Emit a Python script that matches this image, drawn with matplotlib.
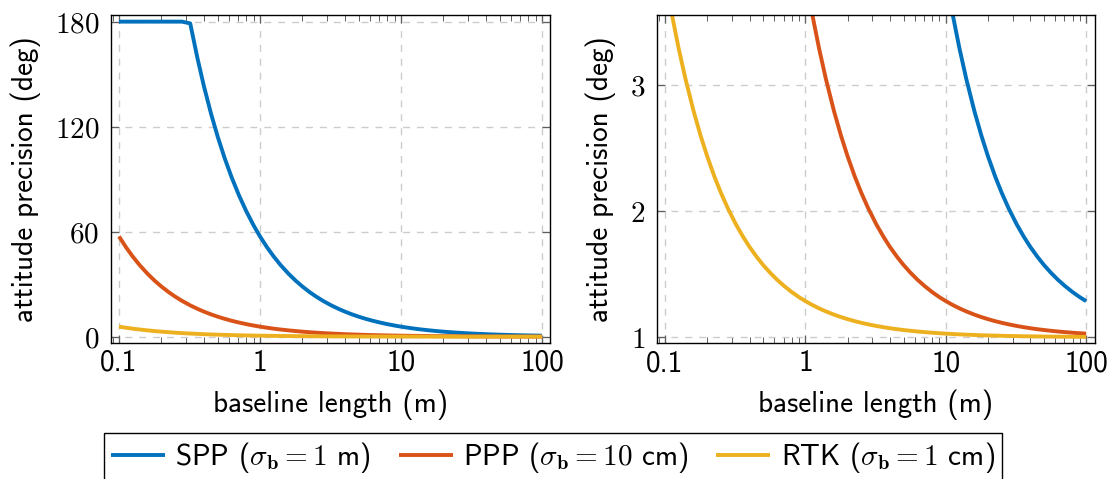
import matplotlib
matplotlib.use("Agg")
import matplotlib.pyplot as plt

plt.rcParams['font.family'] = ['cmss10', 'DejaVu Sans']
plt.rcParams['mathtext.fontset'] = 'cm'
plt.rcParams['axes.unicode_minus'] = False
plt.rcParams['font.size'] = 21

# baseline length (m)
baseline = [0.1, 0.112, 0.125, 0.14, 0.16, 0.18, 0.2, 0.225, 0.25, 0.28,
            0.32, 0.36, 0.4, 0.45, 0.5, 0.56, 0.63, 0.71, 0.8, 0.9,
            1, 1.12, 1.25, 1.4, 1.6, 1.8, 2, 2.25, 2.5, 2.8,
            3.2, 3.6, 4, 4.5, 5, 5.6, 6.3, 7.1, 8, 9,
            10, 11.2, 12.5, 14, 16, 18, 20, 22.5, 25, 28,
            32, 36, 40, 45, 50, 56, 63, 71, 80, 90, 100]

# left panel (deg)
spp_left = [180, 180, 180, 180, 180, 180, 180, 180, 180, 180,
            179.0, 159.2, 143.2, 127.3, 114.6, 102.3, 90.94, 80.70, 71.62, 63.66,
            57.30, 51.16, 45.84, 40.93, 35.81, 31.83, 28.65, 25.46, 22.92, 20.46,
            17.90, 15.92, 14.32, 12.73, 11.46, 10.23, 9.094, 8.070, 7.162, 6.366,
            5.730, 5.116, 4.584, 4.093, 3.581, 3.183, 2.865, 2.546, 2.292, 2.046,
            1.790, 1.592, 1.432, 1.273, 1.146, 1.023, 0.909, 0.807, 0.716, 0.637, 0.573]
ppp_left = [57.30, 51.16, 45.84, 40.93, 35.81, 31.83, 28.65, 25.46, 22.92, 20.46,
            17.90, 15.92, 14.32, 12.73, 11.46, 10.23, 9.094, 8.070, 7.162, 6.366,
            5.730, 5.116, 4.584, 4.093, 3.581, 3.183, 2.865, 2.546, 2.292, 2.046,
            1.790, 1.592, 1.432, 1.273, 1.146, 1.023, 0.909, 0.807, 0.716, 0.637,
            0.573, 0.512, 0.458, 0.409, 0.358, 0.318, 0.287, 0.255, 0.229, 0.205,
            0.179, 0.159, 0.143, 0.127, 0.115, 0.102, 0.091, 0.081, 0.072, 0.064, 0.057]
rtk_left = [5.730, 5.116, 4.584, 4.093, 3.581, 3.183, 2.865, 2.546, 2.292, 2.046,
            1.790, 1.592, 1.432, 1.273, 1.146, 1.023, 0.909, 0.807, 0.716, 0.637,
            0.573, 0.512, 0.458, 0.409, 0.358, 0.318, 0.287, 0.255, 0.229, 0.205,
            0.179, 0.159, 0.143, 0.127, 0.115, 0.102, 0.091, 0.081, 0.072, 0.064,
            0.057, 0.051, 0.046, 0.041, 0.036, 0.032, 0.029, 0.025, 0.023, 0.020,
            0.018, 0.016, 0.014, 0.013, 0.011, 0.010, 0.009, 0.008, 0.007, 0.006, 0.006]

# right panel (deg), zoomed view near 1
spp_right = [287.5, 256.8, 230.2, 205.7, 180.1, 160.2, 144.3, 128.3, 115.6, 103.3,
             90.5, 80.6, 72.6, 64.7, 58.3, 52.2, 46.5, 41.4, 36.8, 32.8,
             29.65, 26.58, 23.92, 21.47, 18.91, 16.92, 15.33, 13.73, 12.46, 11.23,
             9.95, 8.96, 8.16, 7.37, 6.73, 6.12, 5.547, 5.035, 4.581, 4.183,
             3.865, 3.558, 3.292, 3.047, 2.791, 2.592, 2.433, 2.273, 2.146, 2.023,
             1.895, 1.796, 1.716, 1.637, 1.573, 1.512, 1.455, 1.404, 1.358, 1.318, 1.286]
ppp_right = [29.65, 26.58, 23.92, 21.47, 18.91, 16.92, 15.33, 13.73, 12.46, 11.23,
             9.95, 8.96, 8.16, 7.37, 6.73, 6.12, 5.547, 5.035, 4.581, 4.183,
             3.865, 3.558, 3.292, 3.047, 2.791, 2.592, 2.433, 2.273, 2.146, 2.023,
             1.895, 1.796, 1.716, 1.637, 1.573, 1.512, 1.455, 1.404, 1.358, 1.318,
             1.2865, 1.2558, 1.2292, 1.2047, 1.1791, 1.1592, 1.1433, 1.1273, 1.1146, 1.1023,
             1.0895, 1.0796, 1.0716, 1.0637, 1.0573, 1.0512, 1.0455, 1.0404, 1.0358, 1.0318, 1.0286]
rtk_right = [3.865, 3.558, 3.292, 3.047, 2.791, 2.592, 2.433, 2.273, 2.146, 2.023,
             1.895, 1.796, 1.716, 1.637, 1.573, 1.512, 1.455, 1.404, 1.358, 1.318,
             1.2865, 1.2558, 1.2292, 1.2047, 1.1791, 1.1592, 1.1433, 1.1273, 1.1146, 1.1023,
             1.0895, 1.0796, 1.0716, 1.0637, 1.0573, 1.0512, 1.0455, 1.0404, 1.0358, 1.0318,
             1.0287, 1.0256, 1.0229, 1.0205, 1.0179, 1.0159, 1.0143, 1.0127, 1.0115, 1.0102,
             1.0090, 1.0080, 1.0072, 1.0064, 1.0057, 1.0051, 1.0046, 1.0040, 1.0036, 1.0032, 1.0029]

labels = [r'SPP ($\sigma_{\mathbf{b}} = 1$ m)',
          r'PPP ($\sigma_{\mathbf{b}} = 10$ cm)',
          r'RTK ($\sigma_{\mathbf{b}} = 1$ cm)']
colors = ['#0072BD', '#D95319', '#EDB120']

x_ticks = [0.1, 1, 10, 100]
x_ticklabels = ['0.1', '1', '10', '100']
left_yticks = [0, 60, 120, 180]
right_yticks = [1, 2, 3]

fig = plt.figure(figsize=(11.18, 4.79), dpi=100)
ax1 = fig.add_axes([0.0993, 0.2846, 0.3926, 0.6841])
ax2 = fig.add_axes([0.5874, 0.2833, 0.3920, 0.6847])


def style_axis(ax, yticks):
    ax.set_xscale('log')
    ax.set_xticks(x_ticks, x_ticklabels)
    ax.set_yticks(yticks, ['$%d$' % t for t in yticks])
    ax.grid(True, which='major', color='#cccccc', linestyle=(0, (5, 5)), linewidth=1.0)
    ax.tick_params(which='both', direction='in', top=True, right=True, color='#606060')
    ax.tick_params(which='major', length=5.5, width=0.9)
    ax.tick_params(which='minor', length=4, width=0.7)
    ax.tick_params(axis='x', pad=5)
    ax.tick_params(axis='y', pad=8.5)
    for s in ax.spines.values():
        s.set_linewidth(1.0)
    ax.set_xlabel('baseline length (m)', labelpad=9)
    ax.set_ylabel('attitude precision (deg)', labelpad=10)


lines = []
for y, c, lab in zip([spp_left, ppp_left, rtk_left], colors, labels):
    ln, = ax1.plot(baseline, y, color=c, linewidth=2.8, label=lab, solid_capstyle='butt')
    lines.append(ln)
style_axis(ax1, left_yticks)
ax1.set_xlim(0.0878, 113.9)
ax1.set_ylim(-3.43, 183.8)

for y, c in zip([spp_right, ppp_right, rtk_right], colors):
    ax2.plot(baseline, y, color=c, linewidth=2.8, solid_capstyle='butt')
style_axis(ax2, right_yticks)
ax2.set_xlim(0.0873, 115.5)
ax2.set_ylim(0.952, 3.552)

leg = fig.legend(lines, labels, loc='upper center', bbox_to_anchor=(0.4946, 0.096),
                 ncol=3, frameon=True, fancybox=False, edgecolor='black', framealpha=1,
                 handlelength=1.85, handletextpad=0.35, columnspacing=0.95,
                 borderpad=0.25, borderaxespad=0)
leg.get_frame().set_linewidth(1.0)

fig.savefig('out.png', dpi=100)
